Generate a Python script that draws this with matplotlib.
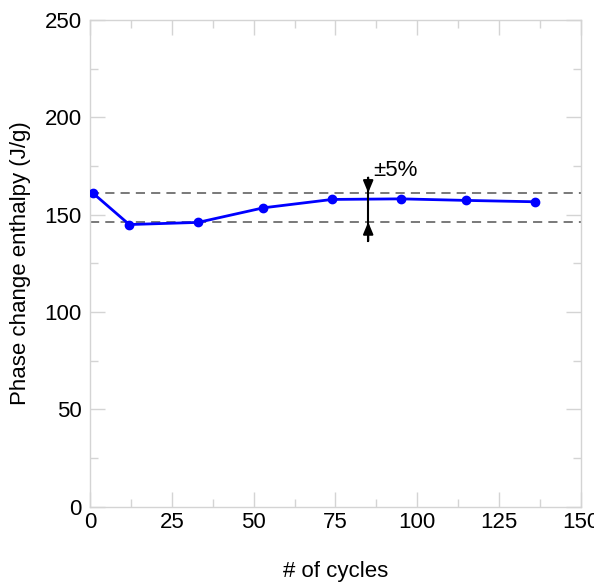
import matplotlib
matplotlib.use('Agg')
import matplotlib.pyplot as plt
from matplotlib.ticker import MultipleLocator

plt.rcParams['font.family'] = ['Liberation Sans', 'DejaVu Sans']

# data
cycles = [1, 12, 33, 53, 74, 95, 115, 136]
enthalpy = [160.9, 144.9, 146.0, 153.5, 157.8, 158.1, 157.3, 156.6]
band_low = 146.2
band_high = 161.2
arrow_x = 85
band_label = '±5%'


def main():
    fig = plt.figure(figsize=(5.94, 5.82), dpi=100)
    ax = fig.add_axes([0.1515, 0.1297, 0.8265, 0.8359])

    # +-5% band
    ax.axhline(band_high, color='#555555', lw=1.1, ls=(0, (6, 4)), zorder=1)
    ax.axhline(band_low, color='#555555', lw=1.1, ls=(0, (6, 4)), zorder=1)

    ax.plot(cycles, enthalpy, color='#0000ff', lw=2, marker='o', ms=6, zorder=3)

    # arrows marking the band
    ax.plot([arrow_x, arrow_x], [136.5, 169], color='black', lw=1.5, zorder=4)
    head = '-|>,head_width=0.25,head_length=0.6'
    ax.annotate('', xy=(arrow_x, band_high), xytext=(arrow_x, 169),
                arrowprops=dict(arrowstyle=head, color='black', lw=1.5,
                                mutation_scale=12, shrinkA=0, shrinkB=0),
                zorder=5)
    ax.annotate('', xy=(arrow_x, band_low), xytext=(arrow_x, 136.5),
                arrowprops=dict(arrowstyle=head, color='black', lw=1.5,
                                mutation_scale=12, shrinkA=0, shrinkB=0),
                zorder=5)
    ax.text(86.5, 172.5, band_label, fontsize=16, va='center', ha='left')

    ax.set_xlim(0, 150)
    ax.set_ylim(0, 250)
    ax.xaxis.set_major_locator(MultipleLocator(25))
    ax.xaxis.set_minor_locator(MultipleLocator(12.5))
    ax.yaxis.set_major_locator(MultipleLocator(50))
    ax.yaxis.set_minor_locator(MultipleLocator(25))

    for s in ax.spines.values():
        s.set_color('#d4d4d4')
        s.set_linewidth(1)
    ax.tick_params(which='both', direction='in', top=True, right=True,
                   color='#d4d4d4', labelsize=16)
    ax.tick_params(which='major', length=11, width=1)
    ax.tick_params(which='minor', length=5.5, width=1)
    ax.tick_params(axis='x', pad=4)
    ax.tick_params(axis='y', pad=6)

    ax.set_xlabel('# of cycles', fontsize=16, labelpad=20)
    ax.set_ylabel('Phase change enthalpy (J/g)', fontsize=16, labelpad=10)

    fig.savefig('out.png', dpi=100)


if __name__ == '__main__':
    main()
